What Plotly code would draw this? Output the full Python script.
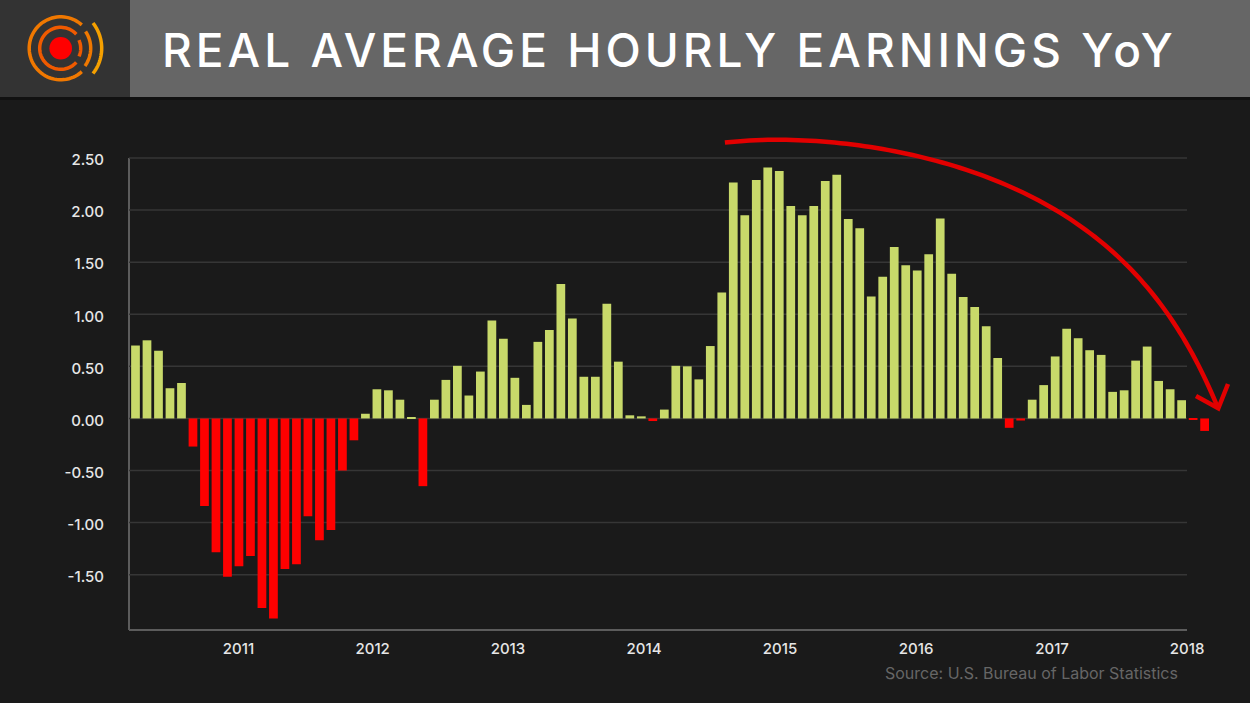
import numpy as np
import plotly.graph_objects as go

W, H = 1250, 703
LEFT, TOP, BOTTOM = 129, 150, 630
GRID_RIGHT = 1187
BAR_RIGHT = 1216

# yoy change per month
earnings = [
    0.70, 0.75, 0.65, 0.29, 0.34, -0.27, -0.84, -1.285, -1.52, -1.42,
    -1.32, -1.82, -1.92, -1.445, -1.40, -0.94, -1.17, -1.07, -0.50, -0.21,
    0.045, 0.28, 0.27, 0.18, 0.01, -0.65, 0.18, 0.37, 0.505, 0.22,
    0.45, 0.94, 0.765, 0.39, 0.13, 0.735, 0.85, 1.29, 0.96, 0.40,
    0.40, 1.10, 0.545, 0.03, 0.02, -0.025, 0.085, 0.505, 0.50, 0.375,
    0.695, 1.21, 2.265, 1.95, 2.29, 2.41, 2.375, 2.04, 1.95, 2.04,
    2.28, 2.34, 1.915, 1.825, 1.17, 1.36, 1.645, 1.47, 1.42, 1.575,
    1.92, 1.39, 1.165, 1.07, 0.885, 0.58, -0.09, -0.02, 0.18, 0.32,
    0.595, 0.86, 0.77, 0.655, 0.61, 0.255, 0.27, 0.555, 0.69, 0.36,
    0.28, 0.175, -0.015, -0.12,
]
months = list(range(len(earnings)))

year_ticks = [8.96, 20.63, 32.4, 44.24, 56.07, 67.9, 79.73, 91.47]
year_labels = ["2011", "2012", "2013", "2014", "2015", "2016", "2017", "2018"]
y_ticks = [-1.5, -1.0, -0.5, 0.0, 0.5, 1.0, 1.5, 2.0, 2.5]
y_labels = [f"{v:.2f}" for v in y_ticks]

X_MIN, X_GRID_END, X_MAX = -0.565, 91.47, 93.99
Y_MIN, Y_MAX = -2.031, 2.577

BG = "#1a1a1a"
GREEN = "#c8d96a"
RED = "#ff0000"
GRID = "#363636"
AXIS = "#5c5c5c"
ARROW = "#e20000"

# hand drawn arrow on top of the chart, in page pixels
arrow_curve = [(725, 142.7), (777, 139.3), (850, 145), (933, 159), (980, 175), (1020, 191.7),
               (1055, 209.3), (1123.3, 261.7), (1168.3, 314), (1193.3, 356.7), (1218.3, 408.3)]
arrow_head = [(1228, 384), (1218.3, 408.3), (1196, 396)]


def px(x):
    return (x - LEFT) / (BAR_RIGHT - LEFT)


def py(y):
    return (BOTTOM - y) / (BOTTOM - TOP)


def arc(cx, cy, r, a0, a1, color, width):
    # logo ring piece, angles in degrees counter-clockwise from east
    angles = np.radians(np.linspace(a0, a1, 60))
    pts = [(cx + r * np.cos(a), cy - r * np.sin(a)) for a in angles]
    return polyline(pts, color, width)


def box(x0, y0, x1, y1, color):
    return dict(type="rect", xref="paper", yref="paper", x0=px(x0), x1=px(x1),
                y0=py(y0), y1=py(y1), fillcolor=color, line_width=0, layer="above")


def polyline(points, color, width):
    path = "M " + " L ".join(f"{px(a):.5f},{py(b):.5f}" for a, b in points)
    return dict(type="path", path=path, xref="paper", yref="paper",
                line=dict(color=color, width=width), layer="above")


def smooth(points, color, width):
    # the read points are noisy, so fit one smooth curve through them
    pts = np.array(points, dtype=float)
    t = np.r_[0, np.cumsum(np.hypot(*np.diff(pts, axis=0).T))]
    tt = np.linspace(0, t[-1], 100)
    xs = np.polyval(np.polyfit(t, pts[:, 0], 5), tt)
    ys = np.polyval(np.polyfit(t, pts[:, 1], 5), tt)
    return polyline(list(zip(xs, ys)), color, width)


def grid_line(v):
    return dict(type="line", xref="x", yref="y", x0=X_MIN, x1=X_GRID_END, y0=v, y1=v,
                line=dict(color=GRID, width=1.5), layer="below")


shapes = [grid_line(v) for v in y_ticks] + [
    dict(type="line", xref="paper", yref="paper", x0=0, x1=px(GRID_RIGHT), y0=0, y1=0,
         line=dict(color=AXIS, width=2), layer="below"),
    dict(type="line", xref="paper", yref="y", x0=0, x1=0, y0=Y_MIN, y1=2.5,
         line=dict(color=AXIS, width=2), layer="below"),
    box(0, 97, W, 100, "#111111"),
    box(0, 0, 130, 97, "#333333"),
    box(130, 0, W, 97, "#666666"),
    arc(60.7, 48.3, 31.5, 48, 312, "#f07800", 3.5),
    arc(60.7, 48.3, 30, -36, 34, "#f07800", 3.5),
    arc(60.7, 48.3, 21, 42, 318, "#f05a00", 3.5),
    arc(60.7, 48.3, 20, -24, 24, "#f05a00", 3.5),
    arc(60.7, 48.3, 41, -38, 38, "#f5a000", 3.5),
    dict(type="circle", xref="paper", yref="paper", x0=px(49.4), x1=px(72),
         y0=py(59.6), y1=py(37), fillcolor=RED, line_width=0, layer="above"),
    smooth(arrow_curve, ARROW, 4.5),
    polyline(arrow_head, ARROW, 4.5),
]

fig = go.Figure(
    go.Bar(
        x=months,
        y=earnings,
        width=0.76,
        marker=dict(color=[GREEN if v >= 0 else RED for v in earnings], line_width=0),
        cliponaxis=False,
    )
)

fig.update_layout(
    width=W,
    height=H,
    margin=dict(l=LEFT, r=W - BAR_RIGHT, t=TOP, b=H - BOTTOM, autoexpand=False),
    paper_bgcolor=BG,
    plot_bgcolor=BG,
    showlegend=False,
    shapes=shapes,
    font=dict(family="Inter", color="#e6e6e6", size=13),
    annotations=[
        dict(text='<span style="letter-spacing:4px">REAL AVERAGE HOURLY EARNINGS YoY</span>',
             x=px(669.5), y=py(50), xref="paper", yref="paper", showarrow=False,
             xanchor="center", yanchor="middle",
             font=dict(family="Inter", size=46, color="#ffffff", weight=500)),
        dict(text="Source: U.S. Bureau of Labor Statistics", x=px(1180), y=py(673),
             xref="paper", yref="paper", showarrow=False, xanchor="right", yanchor="middle",
             font=dict(family="Inter", size=16, color="#666666")),
    ],
)
fig.update_xaxes(
    range=[X_MIN, X_MAX],
    tickvals=year_ticks,
    ticktext=year_labels,
    showgrid=False,
    zeroline=False,
    showline=False,
    ticks="",
    ticklabelstandoff=8,
    tickfont=dict(family="Inter", size=15, color="#e6e6e6", weight=500),
)
fig.update_yaxes(
    range=[Y_MIN, Y_MAX],
    tickvals=y_ticks,
    ticktext=y_labels,
    showgrid=False,
    zeroline=False,
    showline=False,
    ticks="",
    ticklabelstandoff=24,
    ticklabelshift=2,
    tickfont=dict(family="Inter", size=15, color="#e6e6e6", weight=500),
)

fig.write_html("out.html", post_script="document.body.style.margin='0';",
               config=dict(displayModeBar=False))
